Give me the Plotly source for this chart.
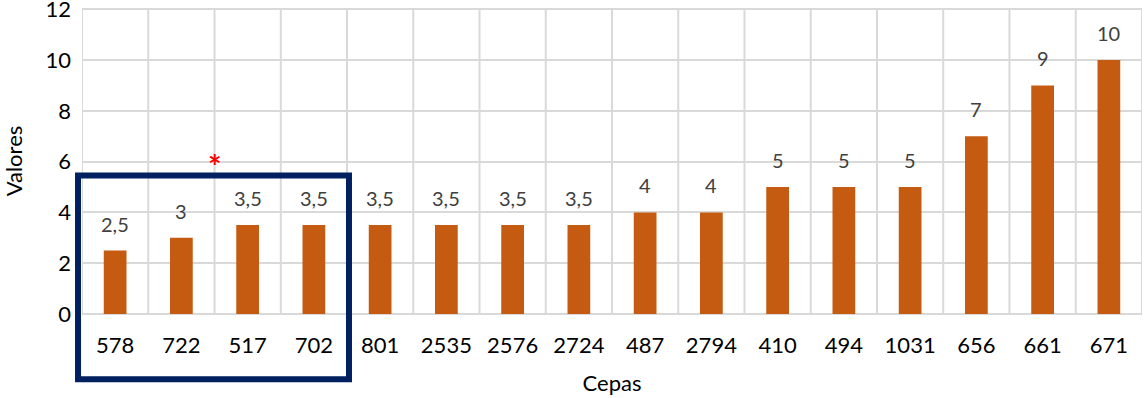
import plotly.graph_objects as go

# Strains and their values
cepas = ["578", "722", "517", "702", "801", "2535", "2576", "2724",
         "487", "2794", "410", "494", "1031", "656", "661", "671"]
valores = [2.5, 3, 3.5, 3.5, 3.5, 3.5, 3.5, 3.5, 4, 4, 5, 5, 5, 7, 9, 10]
y_ticks = [0, 2, 4, 6, 8, 10, 12]

BAR_COLOR = "#C55A11"
GRID = "#D9D9D9"
FONT = "Lato, sans-serif"


def fmt(v):
    s = f"{v:g}"
    return s.replace(".", ",")


n = len(cepas)
idx = list(range(n))

fig = go.Figure()
fig.add_trace(go.Bar(
    x=idx, y=valores,
    marker=dict(color=BAR_COLOR, line=dict(width=0)),
    hoverinfo="skip",
))

# value labels above bars
for i, v in zip(idx, valores):
    fig.add_annotation(x=i, y=v, text=fmt(v), showarrow=False,
                       yanchor="bottom", yshift=13,
                       font=dict(family=FONT, size=20, color="#404040"))

# significance mark
fig.add_annotation(x=1.5, y=6.1, xref="x", yref="y", text="<b>*</b>", showarrow=False,
                   yshift=-7,
                   font=dict(family=FONT, size=32, color="#FF0000"))

# highlight box around the first group of strains
fig.add_shape(type="rect", xref="paper", yref="paper",
              x0=(0 - 0.06) / n, x1=(4 + 0.03) / n,
              y0=-0.213, y1=0.453,
              line=dict(color="#002060", width=6), fillcolor="rgba(0,0,0,0)")

fig.update_layout(
    width=1144, height=398,
    margin=dict(l=82, r=2, t=8, b=84, autoexpand=False),
    paper_bgcolor="white", plot_bgcolor="white",
    bargap=0.657, showlegend=False,
    font=dict(family=FONT, size=22, color="#000000"),
    xaxis=dict(
        tickmode="array", tickvals=idx, ticktext=cepas,
        showgrid=False, showline=False, zeroline=False, ticks="",
        ticklabelstandoff=16, automargin=False,
        tickfont=dict(family=FONT, size=22, color="#000000"),
        title=dict(text="Cepas", font=dict(family=FONT, size=22), standoff=18),
        range=[-0.5, n - 0.5],
    ),
    yaxis=dict(
        range=[0, 12.05], tickvals=y_ticks,
        showgrid=True, gridcolor=GRID, gridwidth=2,
        zeroline=True, zerolinecolor=GRID, zerolinewidth=2,
        showline=False, ticks="", ticklabelstandoff=10,
        ticklabeloverflow="allow", automargin=False,
        tickfont=dict(family=FONT, size=22, color="#000000"),
        title=dict(text="Valores", font=dict(family=FONT, size=22), standoff=16),
    ),
)

# vertical grid lines on category boundaries
for b in range(n + 1):
    fig.add_shape(type="line", xref="x", yref="y", layer="below",
                  x0=b - 0.5, x1=b - 0.5, y0=0, y1=12,
                  line=dict(color=GRID, width=2))

fig.write_html("out.html")
